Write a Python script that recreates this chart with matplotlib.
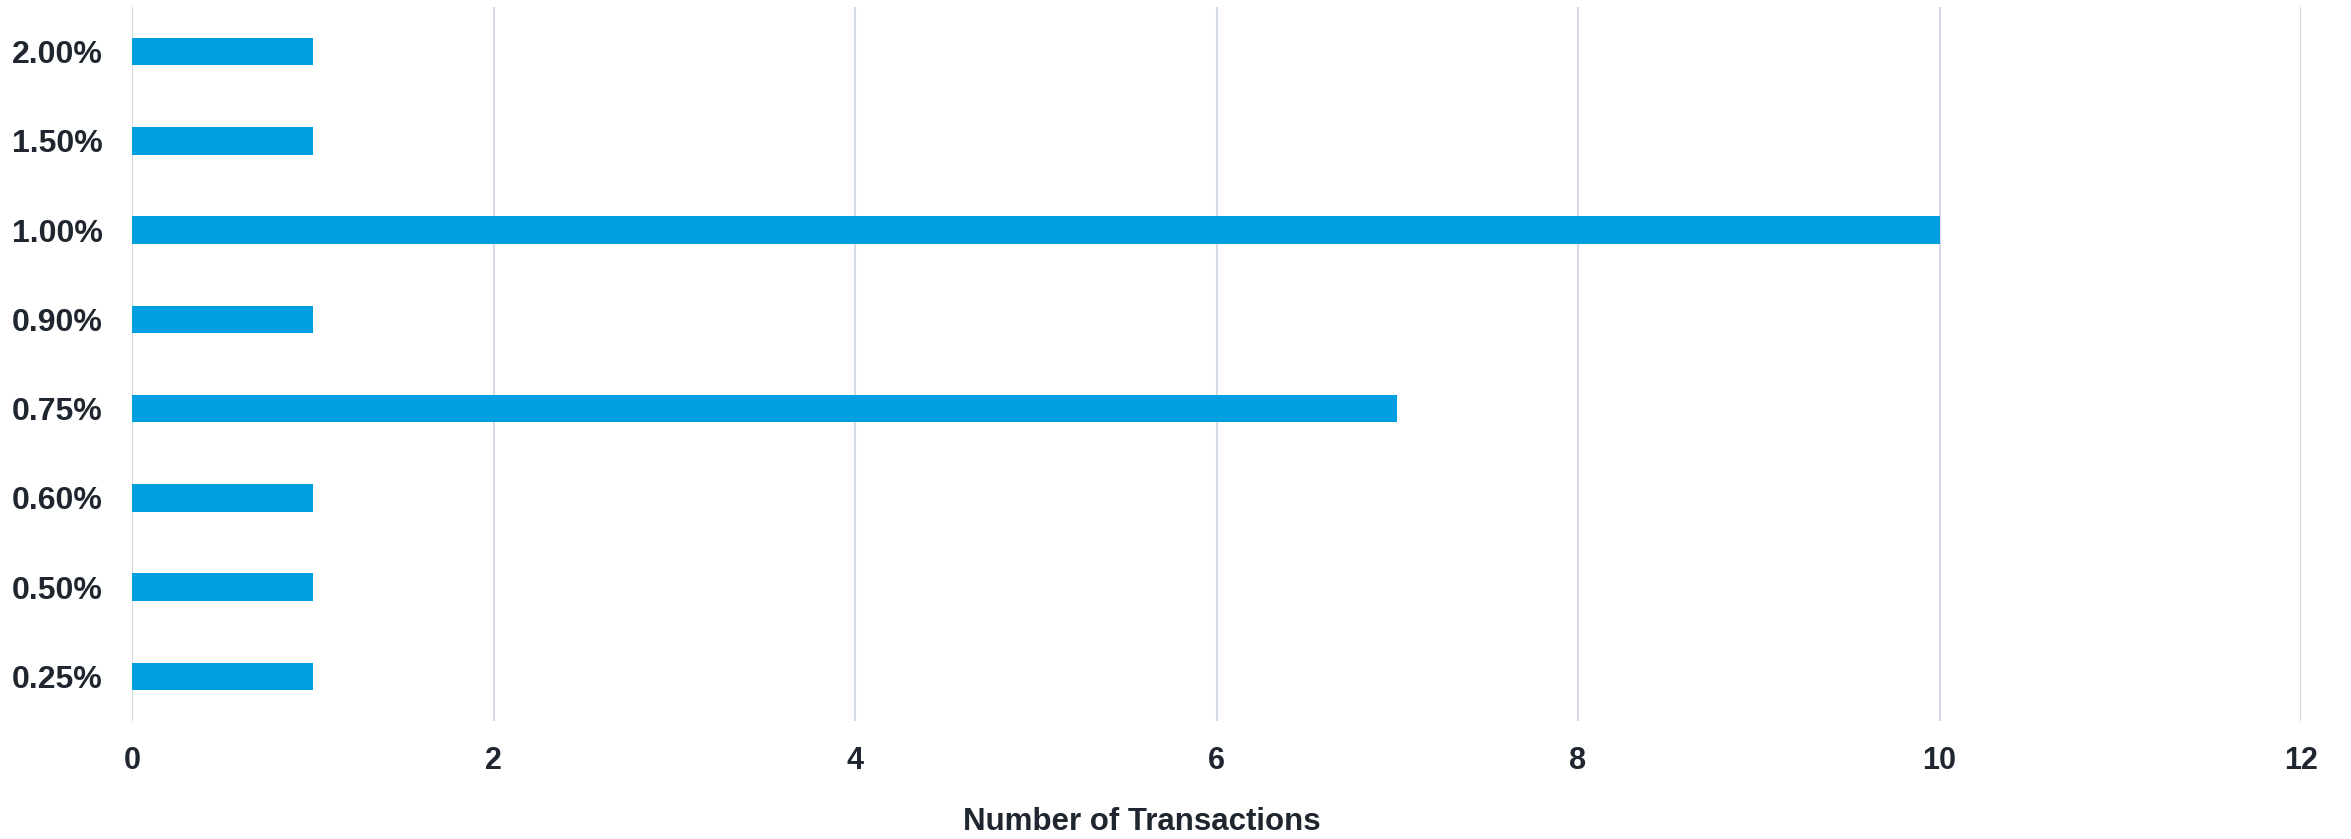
import matplotlib
matplotlib.use("Agg")
import matplotlib.pyplot as plt

# Number of transactions per rate level
rates = ["0.25%", "0.50%", "0.60%", "0.75%", "0.90%", "1.00%", "1.50%", "2.00%"]
counts = [1, 1, 1, 7, 1, 10, 1, 1]
x_ticks = [0, 2, 4, 6, 8, 10, 12]

plt.rcParams['font.family'] = ['Liberation Sans', 'DejaVu Sans']

BAR = "#009fdf"
TEXT = "#1f2630"
GRID = "#d3dae6"

W, H = 2351, 839
fig = plt.figure(figsize=(W / 100, H / 100), dpi=100)
ax = fig.add_axes([132 / W, 1 - 721 / H, (2301 - 132) / W, (721 - 7) / H])

ypos = list(range(len(rates)))
ax.barh(ypos, counts, height=0.31, color=BAR, zorder=3)

ax.set_xlim(0, 12)
ax.set_ylim(-0.5, len(rates) - 0.5)
ax.set_xticks(x_ticks)
ax.set_xticklabels([str(t) for t in x_ticks])
ax.set_yticks(ypos)
ax.set_yticklabels(rates)

ax.grid(axis="x", color=GRID, linewidth=1.5, zorder=0)
ax.grid(axis="y", visible=False)
for s in ax.spines.values():
    s.set_visible(False)

ax.tick_params(axis="both", length=0, colors=TEXT)
ax.tick_params(axis="x", labelsize=22, pad=18)
ax.tick_params(axis="y", labelsize=23, pad=21)
for lbl in ax.get_xticklabels() + ax.get_yticklabels():
    lbl.set_fontweight("bold")

fig.text(1142 / W, 1 - 822 / H, "Number of Transactions", ha="center", va="center",
         fontsize=22.5, fontweight="bold", color=TEXT)

fig.savefig("out.png", dpi=100, facecolor="white")
